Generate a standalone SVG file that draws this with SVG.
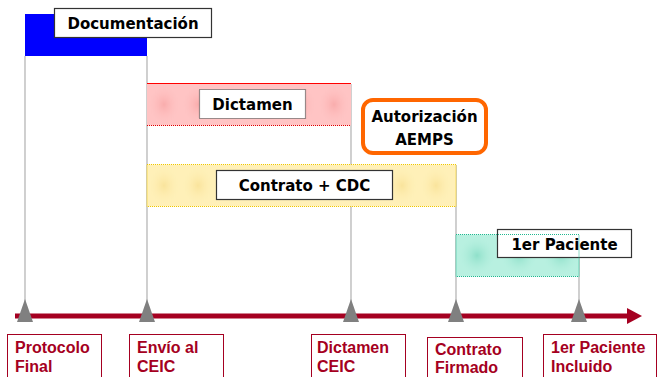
<svg xmlns="http://www.w3.org/2000/svg" width="659" height="377" viewBox="0 0 659 377">
<style>
.lbl{font-family:"DejaVu Sans",Verdana,sans-serif;font-weight:bold;font-size:15px;fill:#000;text-anchor:middle}
.box{fill:#fff;stroke:#333;stroke-width:1.2}
.ms{font-family:"Liberation Sans",Arial,sans-serif;font-weight:bold;font-size:16px;fill:#A50021}
.mbox{fill:#fff;stroke:#A50021;stroke-width:1}
.vl{stroke:#b0b0b0;stroke-width:1.2}
.tri{fill:#808080}
</style>
<defs>
<radialGradient id="spotR"><stop offset="0" stop-color="#F08888"/><stop offset="1" stop-color="#FFC4C4" stop-opacity="0"/></radialGradient>
<radialGradient id="spotY"><stop offset="0" stop-color="#F0D070"/><stop offset="1" stop-color="#FFF0B8" stop-opacity="0"/></radialGradient>
<radialGradient id="spotT"><stop offset="0" stop-color="#50C8A8"/><stop offset="1" stop-color="#B8F0E0" stop-opacity="0"/></radialGradient>
<pattern id="pR" width="34" height="42" patternUnits="userSpaceOnUse" x="147" y="83.5"><rect width="34" height="42" fill="#FFC4C4"/><ellipse cx="17" cy="21" rx="17" ry="21" fill="url(#spotR)" opacity="0.4"/></pattern>
<pattern id="pY" width="34" height="42" patternUnits="userSpaceOnUse" x="147" y="164.5"><rect width="34" height="42" fill="#FFF0B8"/><ellipse cx="17" cy="21" rx="17" ry="21" fill="url(#spotY)" opacity="0.4"/></pattern>
<pattern id="pT" width="42" height="42" patternUnits="userSpaceOnUse" x="456" y="234.5"><rect width="42" height="42" fill="#B8F0E0"/><ellipse cx="21" cy="21" rx="20" ry="21" fill="url(#spotT)" opacity="0.4"/></pattern>
</defs>
<g id="connectors">
<line class="vl" x1="25" y1="56" x2="25" y2="305"/>
<line class="vl" x1="147" y1="56" x2="147" y2="305"/>
<line class="vl" x1="351" y1="84" x2="351" y2="305"/>
<line class="vl" x1="456" y1="165" x2="456" y2="305"/>
<line class="vl" x1="579" y1="234" x2="579" y2="305"/>
<line x1="15" y1="316" x2="628" y2="316" stroke="#A50021" stroke-width="5"/>
<path d="M627,308 L642,316 L627,324 Z" fill="#A50021"/>
<path class="tri" d="M25,299 L33,322 L17,322 Z"/>
<path class="tri" d="M147,299 L155,322 L139,322 Z"/>
<path class="tri" d="M351,299 L359,322 L343,322 Z"/>
<path class="tri" d="M456,299 L464,322 L448,322 Z"/>
<path class="tri" d="M579,299 L587,322 L571,322 Z"/>
</g>
<g id="documentacion">
<rect x="25" y="14" width="122" height="42" fill="#0000FF"/>
<rect class="box" x="54.5" y="8.5" width="157" height="29"/>
<text class="lbl" x="133" y="29">Documentación</text>
</g>
<g id="dictamen">
<rect x="147" y="83.5" width="204" height="42" fill="url(#pR)"/>
<line x1="147" y1="83.5" x2="351" y2="83.5" stroke="#FF0000" stroke-width="1"/>
<line x1="147" y1="125.5" x2="351" y2="125.5" stroke="#E00000" stroke-width="1" stroke-dasharray="1,1"/>
<rect class="box" x="199.5" y="89.5" width="106" height="29" stroke-dasharray="1,1"/>
<text class="lbl" x="252.5" y="110">Dictamen</text>
</g>
<g id="autorizacion">
<rect x="363" y="100" width="123" height="53" rx="10" fill="#fff" stroke="#FF6600" stroke-width="4"/>
<text class="lbl" x="424.5" y="122">Autorización</text>
<text class="lbl" x="424.5" y="145">AEMPS</text>
</g>
<g id="contrato">
<rect x="147" y="164.5" width="309" height="42" fill="url(#pY)"/>
<rect x="147" y="164.5" width="309" height="42" fill="none" stroke="#F0C800" stroke-width="1" stroke-dasharray="1,1"/>
<rect class="box" x="216.5" y="170.5" width="176" height="29"/>
<text class="lbl" x="304.5" y="191">Contrato + CDC</text>
</g>
<g id="paciente">
<rect x="456" y="234.5" width="123" height="42" fill="url(#pT)"/>
<rect class="box" x="497.5" y="229.5" width="134" height="28"/>
<rect x="456" y="234.5" width="123" height="42" fill="none" stroke="#20B890" stroke-width="1" stroke-dasharray="1,1"/>
<text class="lbl" x="564.5" y="250">1er Paciente</text>
</g>
<g id="m1"><rect class="mbox" x="7.5" y="334.5" width="94" height="50"/><text class="ms" x="15" y="353">Protocolo</text><text class="ms" x="15" y="372">Final</text></g>
<g id="m2"><rect class="mbox" x="129.5" y="334.5" width="94" height="50"/><text class="ms" x="137" y="353">Envío al</text><text class="ms" x="137" y="372">CEIC</text></g>
<g id="m3"><rect class="mbox" x="311.5" y="334.5" width="94" height="50"/><text class="ms" x="317" y="353">Dictamen</text><text class="ms" x="317" y="372">CEIC</text></g>
<g id="m4"><rect class="mbox" x="427.5" y="337.5" width="95" height="50"/><text class="ms" x="435" y="355">Contrato</text><text class="ms" x="435" y="373">Firmado</text></g>
<g id="m5"><rect class="mbox" x="543.5" y="334.5" width="113" height="50"/><text class="ms" x="551" y="353">1er Paciente</text><text class="ms" x="551" y="372">Incluido</text></g>
</svg>
